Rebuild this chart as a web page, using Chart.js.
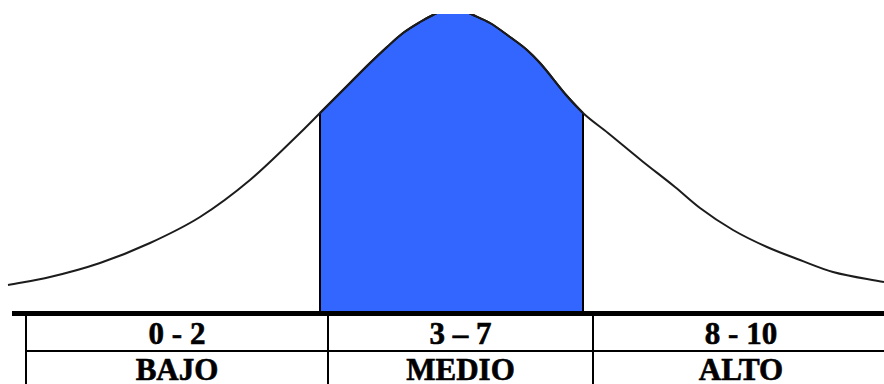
<!DOCTYPE html>
<html>
<head>
<meta charset="utf-8">
<script src="https://cdn.jsdelivr.net/npm/chart.js@4"></script>
<style>
  html, body { margin: 0; padding: 0; background: #fff; }
  #wrap { position: relative; width: 884px; height: 384px; overflow: hidden; }
  #plot { position: absolute; left: 0; top: 0; width: 884px; height: 311px; }
  .line { position: absolute; background: #000; }
  .cell { position: absolute; text-align: center; font-family: "Liberation Serif", "Times New Roman", serif;
          font-weight: bold; font-size: 31px; color: #000; white-space: nowrap;
          -webkit-text-stroke: 0.6px #000; }
</style>
</head>
<body>
<div id="wrap">
  <div id="plot"><canvas id="bellChart"></canvas></div>
  <div id="table"></div>
</div>
<script>
// Bell curve: x position and height above the base line
// (the peak rises past the top of the picture and gets cut off there)
const curveX = [8, 50, 100, 150, 200, 250, 300, 320, 350, 370, 387, 403, 420, 433, 453, 473, 490, 510, 527, 540, 567, 583, 608, 642, 675, 700, 733, 767, 800, 833, 884];
const curveY = [26, 34, 48, 68, 94, 131, 178, 198, 228, 248, 264, 278, 289, 296, 304, 296, 288, 274, 261, 248, 215, 198, 178, 150, 124, 103, 81, 64, 51, 39, 29];

// Shaded middle band (MEDIO)
const bandStart = 320;
const bandEnd = 583;

// Table text
const rangeLabels = ['0 - 2', '3 \u2013 7', '8 - 10'];
const levelLabels = ['BAJO', 'MEDIO', 'ALTO'];

const curvePoints = curveX.map((x, i) => ({ x: x, y: curveY[i] }));
const bandPoints = curvePoints.filter(p => p.x >= bandStart && p.x <= bandEnd);
const startTop = bandPoints[0].y;
const endTop = bandPoints[bandPoints.length - 1].y;

const ctx = document.getElementById('bellChart').getContext('2d');
window.bellChartInstance = new Chart(ctx, {
    type: 'line',
    data: {
        datasets: [
            {
                label: 'Curva',
                data: curvePoints,
                borderColor: '#1c1c1c',
                borderWidth: 2,
                pointRadius: 0,
                fill: false,
                cubicInterpolationMode: 'monotone',
                clip: 0,
                order: 0
            },
            {
                label: 'Medio',
                data: bandPoints,
                borderColor: '#000',
                borderWidth: 2,
                backgroundColor: '#3366ff',
                pointRadius: 0,
                fill: 'origin',
                cubicInterpolationMode: 'monotone',
                clip: 0,
                order: 2
            },
            {
                label: 'Borde izq',
                data: [{ x: bandStart, y: 0 }, { x: bandStart, y: startTop }],
                borderColor: '#000',
                borderWidth: 2,
                pointRadius: 0,
                fill: false,
                order: 1
            },
            {
                label: 'Borde der',
                data: [{ x: bandEnd, y: 0 }, { x: bandEnd, y: endTop }],
                borderColor: '#000',
                borderWidth: 2,
                pointRadius: 0,
                fill: false,
                order: 1
            }
        ]
    },
    options: {
        responsive: true,
        maintainAspectRatio: false,
        animation: false,
        layout: { padding: { top: 14, left: 0, right: 0, bottom: 0 } },
        plugins: {
            legend: { display: false },
            tooltip: { enabled: false }
        },
        scales: {
            x: { type: 'linear', min: 0, max: 884, display: false },
            y: { min: 0, max: 297, display: false }
        }
    }
});

// Table under the curve
const table = document.getElementById('table');
function addLine(left, top, width, height) {
    const d = document.createElement('div');
    d.className = 'line';
    d.style.left = left + 'px';
    d.style.top = top + 'px';
    d.style.width = width + 'px';
    d.style.height = height + 'px';
    table.appendChild(d);
}
function addCell(text, left, width, top, lineHeight) {
    const d = document.createElement('div');
    d.className = 'cell';
    d.textContent = text;
    d.style.left = left + 'px';
    d.style.width = width + 'px';
    d.style.top = top + 'px';
    d.style.lineHeight = lineHeight + 'px';
    table.appendChild(d);
}

addLine(12, 311, 872, 5);     // thick base line
addLine(25, 350, 859, 2);     // row separator
const colEdges = [25, 327, 592, 888];
colEdges.slice(0, 3).forEach(x => addLine(x, 316, 2, 68));

rangeLabels.forEach((t, i) => {
    addCell(t, colEdges[i] + 2, colEdges[i + 1] - colEdges[i] - 2, 316, 35);
});
levelLabels.forEach((t, i) => {
    addCell(t, colEdges[i] + 2, colEdges[i + 1] - colEdges[i] - 2, 352, 35);
});
</script>
</body>
</html>
